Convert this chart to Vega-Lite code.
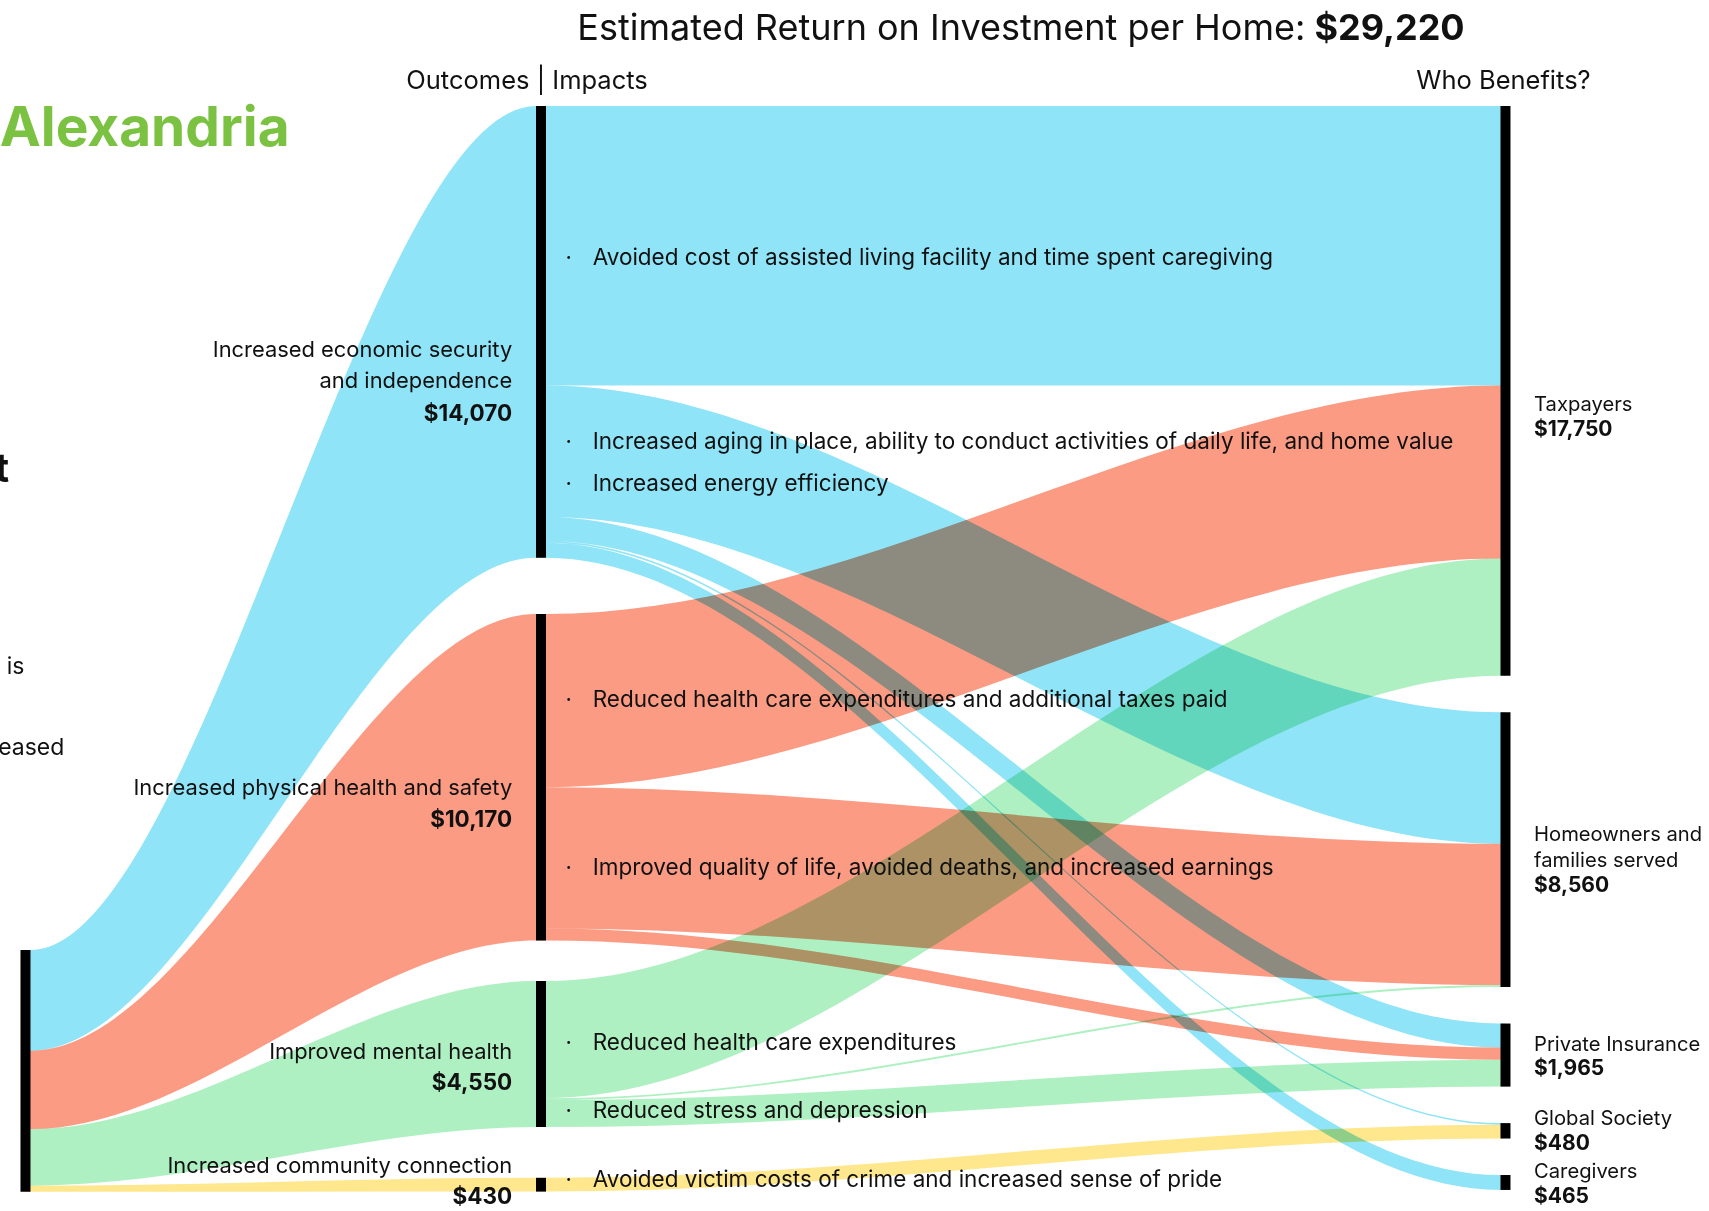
{
  "$schema": "https://vega.github.io/schema/vega-lite/v6.json",
  "width": 1709,
  "height": 1211,
  "padding": 0,
  "autosize": {"type": "none"},
  "background": "white",
  "config": {"view": {"stroke": null}},
  "datasets": {
    "nodes": [
      {"node": "Total", "stage": 0, "top": 26293, "bottom": 33822},
      {"node": "Increased economic security and independence", "stage": 1, "top": 0, "bottom": 14070},
      {"node": "Increased physical health and safety", "stage": 1, "top": 15826, "bottom": 25996},
      {"node": "Improved mental health", "stage": 1, "top": 27259, "bottom": 31809},
      {"node": "Increased community connection", "stage": 1, "top": 33390, "bottom": 33820},
      {"node": "Taxpayers", "stage": 2, "top": 0, "bottom": 17750},
      {"node": "Homeowners and families served", "stage": 2, "top": 18887, "bottom": 27447},
      {"node": "Private Insurance", "stage": 2, "top": 28584, "bottom": 30549},
      {"node": "Global Society", "stage": 2, "top": 31686, "bottom": 32166},
      {"node": "Caregivers", "stage": 2, "top": 33303, "bottom": 33768}
    ],
    "links": [
      {"id": "L_econ", "grp": "econ", "x": 0, "y0": 26293, "y1": 29430},
      {"id": "L_econ", "grp": "econ", "x": 0.01, "y0": 26293, "y1": 29430},
      {"id": "L_econ", "grp": "econ", "x": 0.99, "y0": 0, "y1": 14070},
      {"id": "L_econ", "grp": "econ", "x": 1, "y0": 0, "y1": 14070},
      {"id": "L_phys", "grp": "phys", "x": 0, "y0": 29430, "y1": 31869},
      {"id": "L_phys", "grp": "phys", "x": 0.01, "y0": 29430, "y1": 31869},
      {"id": "L_phys", "grp": "phys", "x": 0.99, "y0": 15826, "y1": 25996},
      {"id": "L_phys", "grp": "phys", "x": 1, "y0": 15826, "y1": 25996},
      {"id": "L_mental", "grp": "mental", "x": 0, "y0": 31869, "y1": 33636},
      {"id": "L_mental", "grp": "mental", "x": 0.01, "y0": 31869, "y1": 33636},
      {"id": "L_mental", "grp": "mental", "x": 0.99, "y0": 27259, "y1": 31809},
      {"id": "L_mental", "grp": "mental", "x": 1, "y0": 27259, "y1": 31809},
      {"id": "L_comm", "grp": "comm", "x": 0, "y0": 33636, "y1": 33822},
      {"id": "L_comm", "grp": "comm", "x": 0.01, "y0": 33636, "y1": 33822},
      {"id": "L_comm", "grp": "comm", "x": 0.99, "y0": 33390, "y1": 33820},
      {"id": "L_comm", "grp": "comm", "x": 1, "y0": 33390, "y1": 33820},

      {"id": "E_T", "grp": "econ", "x": 1, "y0": 0, "y1": 8705},
      {"id": "E_T", "grp": "econ", "x": 1.005, "y0": 0, "y1": 8705},
      {"id": "E_T", "grp": "econ", "x": 1.995, "y0": 0, "y1": 8705},
      {"id": "E_T", "grp": "econ", "x": 2, "y0": 0, "y1": 8705},
      {"id": "E_H", "grp": "econ", "x": 1, "y0": 8705, "y1": 12805},
      {"id": "E_H", "grp": "econ", "x": 1.005, "y0": 8705, "y1": 12805},
      {"id": "E_H", "grp": "econ", "x": 1.995, "y0": 18887, "y1": 22987},
      {"id": "E_H", "grp": "econ", "x": 2, "y0": 18887, "y1": 22987},
      {"id": "E_PI", "grp": "econ", "x": 1, "y0": 12805, "y1": 13555},
      {"id": "E_PI", "grp": "econ", "x": 1.005, "y0": 12805, "y1": 13555},
      {"id": "E_PI", "grp": "econ", "x": 1.995, "y0": 28584, "y1": 29334},
      {"id": "E_PI", "grp": "econ", "x": 2, "y0": 28584, "y1": 29334},
      {"id": "E_GS", "grp": "econ", "x": 1, "y0": 13555, "y1": 13605},
      {"id": "E_GS", "grp": "econ", "x": 1.005, "y0": 13555, "y1": 13605},
      {"id": "E_GS", "grp": "econ", "x": 1.995, "y0": 31686, "y1": 31736},
      {"id": "E_GS", "grp": "econ", "x": 2, "y0": 31686, "y1": 31736},
      {"id": "E_CG", "grp": "econ", "x": 1, "y0": 13605, "y1": 14070},
      {"id": "E_CG", "grp": "econ", "x": 1.005, "y0": 13605, "y1": 14070},
      {"id": "E_CG", "grp": "econ", "x": 1.995, "y0": 33303, "y1": 33768},
      {"id": "E_CG", "grp": "econ", "x": 2, "y0": 33303, "y1": 33768},
      {"id": "P_T", "grp": "phys", "x": 1, "y0": 15826, "y1": 21221},
      {"id": "P_T", "grp": "phys", "x": 1.005, "y0": 15826, "y1": 21221},
      {"id": "P_T", "grp": "phys", "x": 1.995, "y0": 8705, "y1": 14100},
      {"id": "P_T", "grp": "phys", "x": 2, "y0": 8705, "y1": 14100},
      {"id": "P_H", "grp": "phys", "x": 1, "y0": 21221, "y1": 25621},
      {"id": "P_H", "grp": "phys", "x": 1.005, "y0": 21221, "y1": 25621},
      {"id": "P_H", "grp": "phys", "x": 1.995, "y0": 22987, "y1": 27387},
      {"id": "P_H", "grp": "phys", "x": 2, "y0": 22987, "y1": 27387},
      {"id": "P_PI", "grp": "phys", "x": 1, "y0": 25621, "y1": 25996},
      {"id": "P_PI", "grp": "phys", "x": 1.005, "y0": 25621, "y1": 25996},
      {"id": "P_PI", "grp": "phys", "x": 1.995, "y0": 29334, "y1": 29709},
      {"id": "P_PI", "grp": "phys", "x": 2, "y0": 29334, "y1": 29709},
      {"id": "M_T", "grp": "mental", "x": 1, "y0": 27259, "y1": 30909},
      {"id": "M_T", "grp": "mental", "x": 1.005, "y0": 27259, "y1": 30909},
      {"id": "M_T", "grp": "mental", "x": 1.995, "y0": 14100, "y1": 17750},
      {"id": "M_T", "grp": "mental", "x": 2, "y0": 14100, "y1": 17750},
      {"id": "M_H", "grp": "mental", "x": 1, "y0": 30909, "y1": 30969},
      {"id": "M_H", "grp": "mental", "x": 1.005, "y0": 30909, "y1": 30969},
      {"id": "M_H", "grp": "mental", "x": 1.995, "y0": 27387, "y1": 27447},
      {"id": "M_H", "grp": "mental", "x": 2, "y0": 27387, "y1": 27447},
      {"id": "M_PI", "grp": "mental", "x": 1, "y0": 30969, "y1": 31809},
      {"id": "M_PI", "grp": "mental", "x": 1.005, "y0": 30969, "y1": 31809},
      {"id": "M_PI", "grp": "mental", "x": 1.995, "y0": 29709, "y1": 30549},
      {"id": "M_PI", "grp": "mental", "x": 2, "y0": 29709, "y1": 30549},
      {"id": "C_GS", "grp": "comm", "x": 1, "y0": 33390, "y1": 33820},
      {"id": "C_GS", "grp": "comm", "x": 1.005, "y0": 33390, "y1": 33820},
      {"id": "C_GS", "grp": "comm", "x": 1.995, "y0": 31736, "y1": 32166},
      {"id": "C_GS", "grp": "comm", "x": 2, "y0": 31736, "y1": 32166}
    ],
    "labels": [
      {"t": "Estimated Return on Investment per Home:", "x": 1.7925, "y": -2400, "k": "title"},
      {"t": "$29,220", "x": 1.8019, "y": -2400, "k": "titleb"},
      {"t": "Outcomes | Impacts", "x": 0.9729, "y": -790, "k": "head"},
      {"t": "Who Benefits?", "x": 1.9979, "y": -790, "k": "head"},
      {"t": "Alexandria", "x": -0.05, "y": 731, "k": "brand"},
      {"t": "t", "x": -0.0318, "y": 11340, "k": "fragb"},
      {"t": "is", "x": -0.0019, "y": 17477, "k": "frag"},
      {"t": "increased", "x": 0.0754, "y": 20000, "k": "frag"},
      {"t": "Increased economic security", "x": 0.9442, "y": 7601, "k": "mid"},
      {"t": "and independence", "x": 0.9442, "y": 8567, "k": "mid"},
      {"t": "Increased physical health and safety", "x": 0.9442, "y": 21246, "k": "mid"},
      {"t": "Improved mental health", "x": 0.9442, "y": 29470, "k": "mid"},
      {"t": "Increased community connection", "x": 0.9442, "y": 33022, "k": "mid"},
      {"t": "$14,070", "x": 0.9442, "y": 9595, "k": "midb"},
      {"t": "$10,170", "x": 0.9442, "y": 22243, "k": "midb"},
      {"t": "$4,550", "x": 0.9442, "y": 30436, "k": "midb"},
      {"t": "$430", "x": 0.9442, "y": 34003, "k": "midb"},
      {"t": "Avoided cost of assisted living facility and time spent caregiving", "x": 1.0536, "y": 4735, "k": "bul"},
      {"t": "Increased aging in place, ability to conduct activities of daily life, and home value", "x": 1.0536, "y": 10483, "k": "bul"},
      {"t": "Increased energy efficiency", "x": 1.0536, "y": 11776, "k": "bul"},
      {"t": "Reduced health care expenditures and additional taxes paid", "x": 1.0536, "y": 18505, "k": "bul"},
      {"t": "Improved quality of life, avoided deaths, and increased earnings", "x": 1.0536, "y": 23726, "k": "bul"},
      {"t": "Reduced health care expenditures", "x": 1.0536, "y": 29190, "k": "bul"},
      {"t": "Reduced stress and depression", "x": 1.0536, "y": 31296, "k": "bul"},
      {"t": "Avoided victim costs of crime and increased sense of pride", "x": 1.0536, "y": 33470, "k": "bul"},
      {"t": "·", "x": 1.0288, "y": 4735, "k": "dot"},
      {"t": "·", "x": 1.0288, "y": 10483, "k": "dot"},
      {"t": "·", "x": 1.0288, "y": 11776, "k": "dot"},
      {"t": "·", "x": 1.0288, "y": 18505, "k": "dot"},
      {"t": "·", "x": 1.0288, "y": 23726, "k": "dot"},
      {"t": "·", "x": 1.0288, "y": 29190, "k": "dot"},
      {"t": "·", "x": 1.0288, "y": 31296, "k": "dot"},
      {"t": "·", "x": 1.0288, "y": 33470, "k": "dot"},
      {"t": "Taxpayers", "x": 2.0296, "y": 9330, "k": "right"},
      {"t": "Homeowners and", "x": 2.0296, "y": 22701, "k": "right"},
      {"t": "families served", "x": 2.0296, "y": 23511, "k": "right"},
      {"t": "Private Insurance", "x": 2.0296, "y": 29252, "k": "right"},
      {"t": "Global Society", "x": 2.0296, "y": 31567, "k": "right"},
      {"t": "Caregivers", "x": 2.0296, "y": 33199, "k": "right"},
      {"t": "$17,750", "x": 2.0296, "y": 10109, "k": "rightb"},
      {"t": "$8,560", "x": 2.0296, "y": 24312, "k": "rightb"},
      {"t": "$1,965", "x": 2.0296, "y": 30010, "k": "rightb"},
      {"t": "$480", "x": 2.0296, "y": 32346, "k": "rightb"},
      {"t": "$465", "x": 2.0296, "y": 33978, "k": "rightb"}
    ]
  },
  "layer": [
    {
      "data": {"name": "links"},
      "mark": {"type": "area", "interpolate": "monotone", "blend": "multiply", "opacity": 1},
      "encoding": {
        "x": {"field": "x", "type": "quantitative", "axis": null, "scale": {"domain": [0, 1, 2], "range": [22, 541, 1512], "nice": false, "zero": false}},
        "y": {"field": "y0", "type": "quantitative", "axis": null, "scale": {"domain": [-3302, 34424], "reverse": true, "nice": false, "zero": false}},
        "y2": {"field": "y1"},
        "detail": {"field": "id"},
        "color": {"field": "grp", "type": "nominal", "legend": null, "scale": {"domain": ["econ", "phys", "mental", "comm"], "range": ["#8fe4f7", "#fc9b83", "#aef0c2", "#ffe78d"]}}
      }
    },
    {
      "data": {"name": "nodes"},
      "mark": {"type": "bar", "width": 10, "color": "#000000"},
      "encoding": {
        "x": {"field": "stage", "type": "quantitative", "axis": null, "scale": {"domain": [0, 1, 2], "range": [22, 541, 1512], "nice": false, "zero": false}},
        "y": {"field": "top", "type": "quantitative", "axis": null, "scale": {"domain": [-3302, 34424], "reverse": true, "nice": false, "zero": false}},
        "y2": {"field": "bottom"}
      }
    },
    {
      "data": {"name": "labels"},
      "transform": [{"filter": "datum.k === 'title'"}],
      "mark": {"type": "text", "align": "right", "baseline": "middle", "font": "Inter", "fontSize": 36, "color": "#111111"},
      "encoding": {
        "x": {"field": "x", "type": "quantitative", "axis": null},
        "y": {"field": "y", "type": "quantitative", "axis": null},
        "text": {"field": "t"}
      }
    },
    {
      "data": {"name": "labels"},
      "transform": [{"filter": "datum.k === 'titleb'"}],
      "mark": {"type": "text", "align": "left", "baseline": "middle", "font": "Inter", "fontWeight": "bold", "fontSize": 36, "color": "#111111"},
      "encoding": {
        "x": {"field": "x", "type": "quantitative", "axis": null},
        "y": {"field": "y", "type": "quantitative", "axis": null},
        "text": {"field": "t"}
      }
    },
    {
      "data": {"name": "labels"},
      "transform": [{"filter": "datum.k === 'head'"}],
      "mark": {"type": "text", "align": "center", "baseline": "middle", "font": "Inter", "fontSize": 25.5, "color": "#111111"},
      "encoding": {
        "x": {"field": "x", "type": "quantitative", "axis": null},
        "y": {"field": "y", "type": "quantitative", "axis": null},
        "text": {"field": "t"}
      }
    },
    {
      "data": {"name": "labels"},
      "transform": [{"filter": "datum.k === 'brand'"}],
      "mark": {"type": "text", "align": "left", "baseline": "middle", "font": "Inter", "fontWeight": "bold", "fontSize": 55, "color": "#7cc242"},
      "encoding": {
        "x": {"field": "x", "type": "quantitative", "axis": null},
        "y": {"field": "y", "type": "quantitative", "axis": null},
        "text": {"field": "t"}
      }
    },
    {
      "data": {"name": "labels"},
      "transform": [{"filter": "datum.k === 'fragb'"}],
      "mark": {"type": "text", "align": "right", "baseline": "middle", "font": "Inter", "fontWeight": "bold", "fontSize": 40, "color": "#111111"},
      "encoding": {
        "x": {"field": "x", "type": "quantitative", "axis": null},
        "y": {"field": "y", "type": "quantitative", "axis": null},
        "text": {"field": "t"}
      }
    },
    {
      "data": {"name": "labels"},
      "transform": [{"filter": "datum.k === 'frag'"}],
      "mark": {"type": "text", "align": "right", "baseline": "middle", "font": "Inter", "fontSize": 23, "color": "#111111"},
      "encoding": {
        "x": {"field": "x", "type": "quantitative", "axis": null},
        "y": {"field": "y", "type": "quantitative", "axis": null},
        "text": {"field": "t"}
      }
    },
    {
      "data": {"name": "labels"},
      "transform": [{"filter": "datum.k === 'mid'"}],
      "mark": {"type": "text", "align": "right", "baseline": "middle", "font": "Inter", "fontSize": 21.9, "color": "#111111"},
      "encoding": {
        "x": {"field": "x", "type": "quantitative", "axis": null},
        "y": {"field": "y", "type": "quantitative", "axis": null},
        "text": {"field": "t"}
      }
    },
    {
      "data": {"name": "labels"},
      "transform": [{"filter": "datum.k === 'midb'"}],
      "mark": {"type": "text", "align": "right", "baseline": "middle", "font": "Inter", "fontWeight": "bold", "fontSize": 22.5, "color": "#111111"},
      "encoding": {
        "x": {"field": "x", "type": "quantitative", "axis": null},
        "y": {"field": "y", "type": "quantitative", "axis": null},
        "text": {"field": "t"}
      }
    },
    {
      "data": {"name": "labels"},
      "transform": [{"filter": "datum.k === 'bul'"}],
      "mark": {"type": "text", "align": "left", "baseline": "middle", "font": "Inter", "fontSize": 22.5, "color": "#111111"},
      "encoding": {
        "x": {"field": "x", "type": "quantitative", "axis": null},
        "y": {"field": "y", "type": "quantitative", "axis": null},
        "text": {"field": "t"}
      }
    },
    {
      "data": {"name": "labels"},
      "transform": [{"filter": "datum.k === 'dot'"}],
      "mark": {"type": "text", "align": "center", "baseline": "middle", "font": "Inter", "fontSize": 22, "color": "#111111"},
      "encoding": {
        "x": {"field": "x", "type": "quantitative", "axis": null},
        "y": {"field": "y", "type": "quantitative", "axis": null},
        "text": {"field": "t"}
      }
    },
    {
      "data": {"name": "labels"},
      "transform": [{"filter": "datum.k === 'right'"}],
      "mark": {"type": "text", "align": "left", "baseline": "middle", "font": "Inter", "fontSize": 20.2, "color": "#111111"},
      "encoding": {
        "x": {"field": "x", "type": "quantitative", "axis": null},
        "y": {"field": "y", "type": "quantitative", "axis": null},
        "text": {"field": "t"}
      }
    },
    {
      "data": {"name": "labels"},
      "transform": [{"filter": "datum.k === 'rightb'"}],
      "mark": {"type": "text", "align": "left", "baseline": "middle", "font": "Inter", "fontWeight": "bold", "fontSize": 21, "color": "#111111"},
      "encoding": {
        "x": {"field": "x", "type": "quantitative", "axis": null},
        "y": {"field": "y", "type": "quantitative", "axis": null},
        "text": {"field": "t"}
      }
    }
  ]
}
